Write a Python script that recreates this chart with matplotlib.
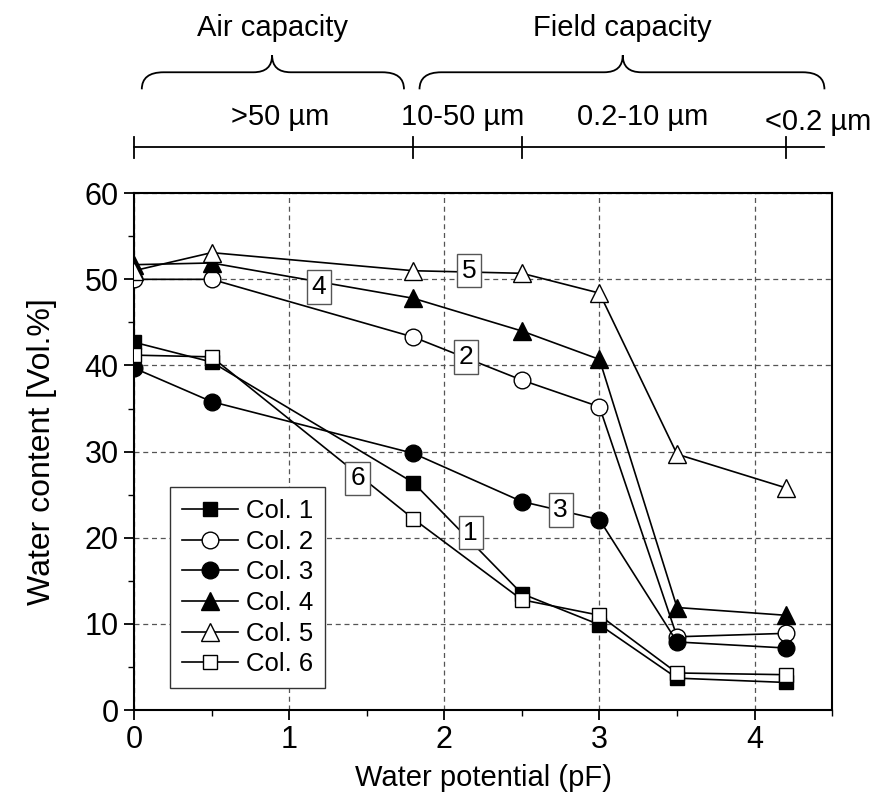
#!/usr/bin/env python

import matplotlib
matplotlib.use("Agg")
import matplotlib.pyplot as plt
import matplotlib.transforms as mtransforms
from matplotlib.path import Path
from matplotlib.patches import PathPatch
from matplotlib.ticker import MultipleLocator

plt.rcParams['font.family'] = ['Liberation Sans', 'DejaVu Sans']

# water potential (pF) of the measurement steps
pf = [0, 0.5, 1.8, 2.5, 3.0, 3.5, 4.2]

col1 = [42.7, 40.4, 26.4, 13.5, 9.9, 3.7, 3.2]
col2 = [50.0, 50.0, 43.3, 38.3, 35.2, 8.5, 8.9]
col3 = [39.7, 35.8, 29.8, 24.2, 22.1, 7.9, 7.2]
col4 = [51.7, 51.9, 47.8, 44.0, 40.7, 11.9, 11.0]
col5 = [51.0, 53.1, 51.0, 50.7, 48.4, 29.7, 25.8]
col6 = [41.2, 41.0, 22.2, 12.8, 11.0, 4.3, 4.1]

series_names = ["Col. 1", "Col. 2", "Col. 3", "Col. 4", "Col. 5", "Col. 6"]

# pore size classes on top of the chart
class_bounds = [0, 1.8, 2.5, 4.2]
class_labels = [">50 µm", "10-50 µm", "0.2-10 µm", "<0.2 µm"]
capacity_labels = ["Air capacity", "Field capacity"]


def draw_brace(ax, trans, x0, x1, xm, y_end, y_mid, y_tip, r_end=0.14, r_tip=0.12):
    verts = [(x0, y_end), (x0, y_mid), (x0 + r_end, y_mid),
             (xm - r_tip, y_mid),
             (xm, y_mid), (xm, y_tip),
             (xm, y_mid), (xm + r_tip, y_mid),
             (x1 - r_end, y_mid),
             (x1, y_mid), (x1, y_end)]
    codes = [Path.MOVETO, Path.CURVE3, Path.CURVE3,
             Path.LINETO,
             Path.CURVE3, Path.CURVE3,
             Path.CURVE3, Path.CURVE3,
             Path.LINETO,
             Path.CURVE3, Path.CURVE3]
    patch = PathPatch(Path(verts, codes), transform=trans, fc='none',
                      ec='black', lw=1.3, clip_on=False)
    ax.add_patch(patch)


def make_plot():
    fig = plt.figure(figsize=(8.76, 8.05), dpi=100)
    ax = fig.add_axes([0.153, 0.118, 0.797, 0.642])

    styles = [
        dict(marker='s', mfc='black', ms=10),
        dict(marker='o', mfc='white', ms=12),
        dict(marker='o', mfc='black', ms=12),
        dict(marker='^', mfc='black', ms=13),
        dict(marker='^', mfc='white', ms=13),
        dict(marker='s', mfc='white', ms=10),
    ]
    all_cols = [col1, col2, col3, col4, col5, col6]
    for name, vals, st in zip(series_names, all_cols, styles):
        ax.plot(pf, vals, color='black', lw=1.2, mec='black', mew=1.0,
                label=name, zorder=3, **st)

    # numbered boxes along the lines
    box_pos = {"1": (2.17, 20.6), "2": (2.14, 41.0), "3": (2.75, 23.2),
               "4": (1.19, 49.1), "5": (2.16, 51.0), "6": (1.44, 26.9)}
    for txt, (bx, by) in box_pos.items():
        ax.text(bx, by, txt, fontsize=19, ha='center', va='center', zorder=5,
                bbox=dict(boxstyle='square,pad=0.18', fc='white', ec='#555555', lw=1.0))

    ax.set_xlim(0, 4.5)
    ax.set_ylim(0, 60)
    ax.xaxis.set_major_locator(MultipleLocator(1))
    ax.xaxis.set_minor_locator(MultipleLocator(0.5))
    ax.yaxis.set_major_locator(MultipleLocator(10))
    ax.yaxis.set_minor_locator(MultipleLocator(5))
    ax.tick_params(which='major', direction='out', length=7, width=1.3, labelsize=22, pad=4)
    ax.tick_params(which='minor', direction='out', length=4, width=1.0)
    for sp in ax.spines.values():
        sp.set_linewidth(1.5)
    ax.grid(True, which='major', linestyle=(0, (4, 3)), color='#555555', lw=0.9)
    ax.set_xlabel('Water potential (pF)', fontsize=21, labelpad=6)
    ax.set_ylabel('Water content [Vol.%]', fontsize=23, labelpad=20)

    leg = ax.legend(loc='upper left', bbox_to_anchor=(0.052, 0.431), borderaxespad=0,
                    fontsize=18.5, fancybox=False, framealpha=1, edgecolor='#333333',
                    handlelength=2.2, handletextpad=0.3, labelspacing=0.26,
                    borderpad=0.45)
    leg.get_frame().set_linewidth(1.0)

    # pore size scale above the axes
    trans = mtransforms.blended_transform_factory(ax.transData, ax.transAxes)
    bar_y = 1.089
    ax.plot([class_bounds[0], 4.45], [bar_y, bar_y], color='black', lw=1.3,
            transform=trans, clip_on=False)
    for b in class_bounds:
        ax.plot([b, b], [bar_y - 0.02, bar_y + 0.02], color='black', lw=1.3,
                transform=trans, clip_on=False)
    label_x = [0.94, 2.12, 3.28, 4.41]
    label_y = [1.147, 1.147, 1.147, 1.137]
    for lx, ly, lab in zip(label_x, label_y, class_labels):
        ax.text(lx, ly, lab, transform=trans, ha='center', va='center', fontsize=21)

    draw_brace(ax, trans, 0.05, 1.74, 0.89, 1.201, 1.234, 1.267)
    draw_brace(ax, trans, 1.84, 4.45, 3.15, 1.201, 1.234, 1.267)
    ax.text(0.89, 1.319, capacity_labels[0], transform=trans, ha='center', va='center', fontsize=21)
    ax.text(3.15, 1.319, capacity_labels[1], transform=trans, ha='center', va='center', fontsize=21)

    fig.savefig("out.png")


if __name__ == "__main__":
    make_plot()
